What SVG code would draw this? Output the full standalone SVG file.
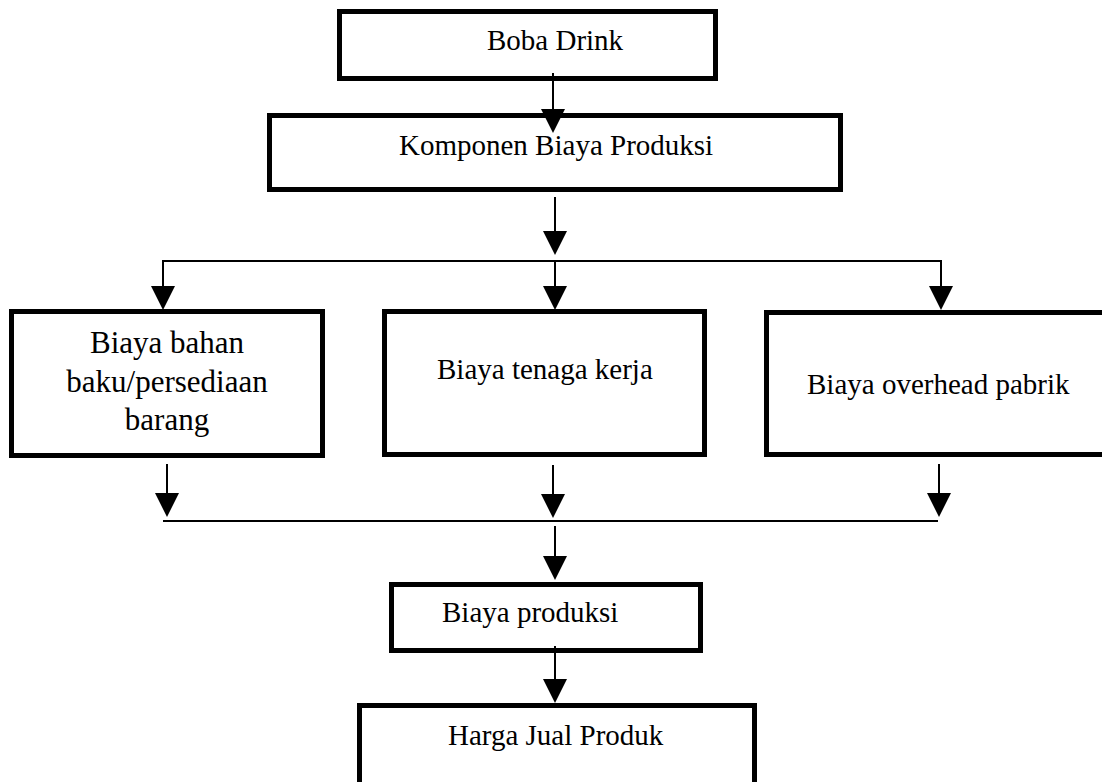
<svg xmlns="http://www.w3.org/2000/svg" width="1102" height="782" viewBox="0 0 1102 782">
<style>
.box{fill:#fff;stroke:#000;stroke-width:5}
.lbl{font-family:"Liberation Serif","Times New Roman",serif;font-size:29px;fill:#000}
.big{font-size:31px}
.ln{stroke:#000;stroke-width:2;fill:none}
</style>
<defs>
<marker id="ah" markerUnits="userSpaceOnUse" markerWidth="24" markerHeight="24" viewBox="0 0 24 24" refX="14" refY="12" orient="auto">
<path d="M0,0 L24,12 L0,24 Z" fill="#000"/>
</marker>
</defs>
<rect width="1102" height="782" fill="#fff"/>
<g id="boba">
<rect class="box" x="339.5" y="11.5" width="376" height="67"/>
<text class="lbl" x="487" y="50">Boba Drink</text>
</g>
<g id="komponen">
<rect class="box" x="269.5" y="115.5" width="571" height="74"/>
<text class="lbl" x="399" y="155">Komponen Biaya Produksi</text>
</g>
<g id="bahan">
<rect class="box" x="11.5" y="311.5" width="311" height="144"/>
<text class="lbl big" text-anchor="middle" x="167" y="353">Biaya bahan</text>
<text class="lbl big" text-anchor="middle" x="167" y="392">baku/persediaan</text>
<text class="lbl big" text-anchor="middle" x="167" y="430">barang</text>
</g>
<g id="tenaga">
<rect class="box" x="384.5" y="311.5" width="320" height="143"/>
<text class="lbl" x="437" y="379">Biaya tenaga kerja</text>
</g>
<g id="overhead">
<rect class="box" x="766.5" y="312.5" width="340" height="142"/>
<text class="lbl" x="807" y="394">Biaya overhead pabrik</text>
</g>
<g id="produksi">
<rect class="box" x="391.5" y="584.5" width="309" height="66"/>
<text class="lbl" x="442" y="622">Biaya produksi</text>
</g>
<g id="harga">
<rect class="box" x="359.5" y="705.5" width="395" height="85"/>
<text class="lbl" x="448" y="745">Harga Jual Produk</text>
</g>
<g id="connectors">
<line class="ln" x1="553" y1="73" x2="553" y2="123" marker-end="url(#ah)"/>
<line class="ln" x1="555" y1="197" x2="555" y2="245" marker-end="url(#ah)"/>
<line class="ln" x1="162" y1="261" x2="942" y2="261"/>
<line class="ln" x1="163" y1="260" x2="163" y2="300" marker-end="url(#ah)"/>
<line class="ln" x1="555" y1="260" x2="555" y2="300" marker-end="url(#ah)"/>
<line class="ln" x1="941" y1="260" x2="941" y2="300" marker-end="url(#ah)"/>
<line class="ln" x1="167" y1="464" x2="167" y2="507" marker-end="url(#ah)"/>
<line class="ln" x1="553" y1="465" x2="553" y2="508" marker-end="url(#ah)"/>
<line class="ln" x1="939" y1="464" x2="939" y2="507" marker-end="url(#ah)"/>
<line class="ln" x1="163" y1="521" x2="938" y2="521"/>
<line class="ln" x1="555" y1="526" x2="555" y2="570" marker-end="url(#ah)"/>
<line class="ln" x1="555" y1="646" x2="555" y2="693" marker-end="url(#ah)"/>
</g>
</svg>
